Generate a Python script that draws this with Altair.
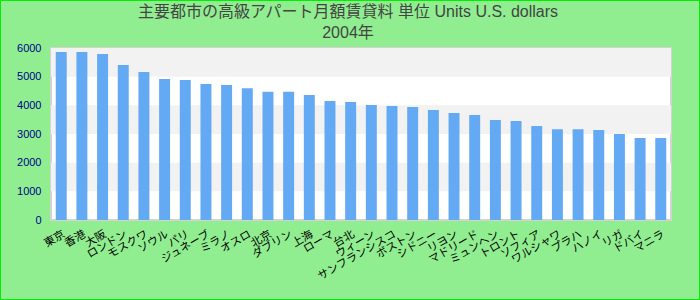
import altair as alt
import pandas as pd

categories = ["東京", "香港", "大阪", "ロンドン", "モスクワ", "ソウル", "パリ", "ジュネーブ",
              "ミラノ", "オスロ", "北京", "ダブリン", "上海", "ローマ", "台北", "ウィーン",
              "サンフランシスコ", "ボストン", "シドニー", "リヨン", "マドリード", "ミュンヘン",
              "トロント", "ソフィア", "ワルシャワ", "プラハ", "ハノイ", "リガ", "ドバイ", "マニラ"]
values = [5860, 5860, 5790, 5410, 5160, 4920, 4880, 4740, 4710, 4600,
          4470, 4470, 4360, 4150, 4120, 4010, 3980, 3940, 3840, 3730,
          3660, 3490, 3450, 3280, 3170, 3170, 3140, 3000, 2860, 2860]
band_lo = [1000, 3000, 5000]
band_hi = [2000, 4000, 6000]

title_text = "主要都市の高級アパート月額賃貸料 単位 Units U.S. dollars"
subtitle_text = "2004年"
y_ticks = [0, 1000, 2000, 3000, 4000, 5000, 6000]

df = pd.DataFrame({"cat": categories, "val": values, "order": list(range(len(categories)))})
bands = pd.DataFrame({"lo": band_lo, "hi": band_hi})
titles = pd.DataFrame({"t": [title_text, subtitle_text], "line": [0, 1]})

FONT = "Liberation Sans, Noto Sans CJK JP, sans-serif"
yscale = alt.Scale(domain=[0, 6000], nice=False)
yaxis = alt.Axis(values=y_ticks, format="d", grid=False, ticks=False, domain=False,
                 labelFont=FONT, labelFontSize=11, labelColor="#00008B",
                 labelPadding=10, labelOverlap=False, tickCount=7)

band_layer = alt.Chart(bands).mark_rect(color="#f2f2f2").encode(
    x=alt.value(0), x2=alt.value(620),
    y=alt.Y("lo:Q", scale=yscale, axis=yaxis, title=None), y2="hi:Q",
)

bar_layer = alt.Chart(df).mark_bar(color="#63a9f4").encode(
    x=alt.X("cat:N", sort=alt.SortField("order"), title=None,
            scale=alt.Scale(paddingInner=0.47, paddingOuter=0.23),
            axis=alt.Axis(labelAngle=-30, labelAlign="right", labelBaseline="top",
                          labelFont=FONT, labelFontSize=11, labelColor="#000000",
                          ticks=False, domain=False, labelPadding=8, labelOverlap=False)),
    y=alt.Y("val:Q", scale=yscale, title=None, axis=yaxis),
)

title_line1 = alt.Chart(titles).transform_filter("datum.line == 0").mark_text(
    font=FONT, fontSize=16, color="#444444", align="center", baseline="middle"
).encode(text="t:N", x=alt.value(297), y=alt.value(-36))

title_line2 = alt.Chart(titles).transform_filter("datum.line == 1").mark_text(
    font=FONT, fontSize=16, color="#444444", align="center", baseline="middle"
).encode(text="t:N", x=alt.value(297), y=alt.value(-15))

border = alt.Chart(pd.DataFrame({"a": [0]})).mark_rect(
    fill=None, stroke="#00ee00", strokeWidth=1
).encode(x=alt.value(-50.5), x2=alt.value(648.5), y=alt.value(-47.5), y2=alt.value(251.5))

chart = alt.layer(band_layer, bar_layer, title_line1, title_line2, border).properties(
    width=620, height=172,
    autosize=alt.AutoSizeParams(type="none"),
    padding={"left": 51, "top": 48, "right": 29, "bottom": 80},
).configure(background="#90EE90").configure_view(
    stroke="#d3d3d3", strokeWidth=2, fill="white"
)

chart.save("out.html", embed_options={"renderer": "svg", "actions": False})
